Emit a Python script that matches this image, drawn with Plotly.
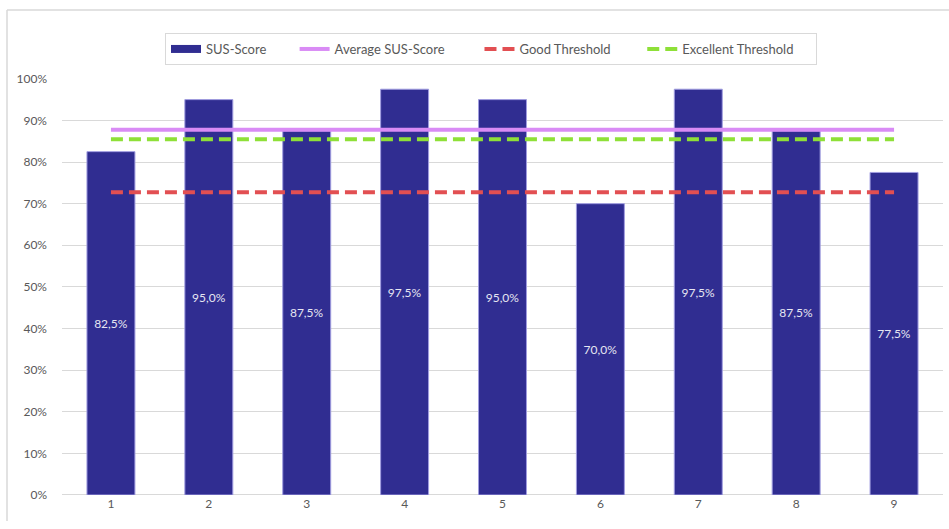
import plotly.graph_objects as go

categories = ["1", "2", "3", "4", "5", "6", "7", "8", "9"]
sus_scores = [82.5, 95.0, 87.5, 97.5, 95.0, 70.0, 97.5, 87.5, 77.5]
average_score = sum(sus_scores) / len(sus_scores)
good_threshold = 72.75
excellent_threshold = 85.5
y_ticks = [0, 10, 20, 30, 40, 50, 60, 70, 80, 90, 100]
y_tick_labels = [f"{v}%" for v in y_ticks]

W, H = 949, 529
ml, mr, mt, mb = 62, 6, 77, 34
BAR_COLOR = "#302D91"
NB = "\u00a0"

fig = go.Figure()
fig.add_trace(go.Bar(
    x=categories, y=sus_scores, name="SUS-Score", showlegend=False,
    marker=dict(color=BAR_COLOR, line=dict(color="#A09DE0", width=1)),
    texttemplate="%{y:.1f}%", textposition="inside", insidetextanchor="middle",
    textfont=dict(color="#E6E6F2", size=12), textangle=0,
))
# legend entry for the bars (wide rectangle swatch like the reference)
fig.add_trace(go.Scatter(
    x=[None], y=[None], name="SUS-Score" + NB * 7, mode="lines",
    line=dict(color=BAR_COLOR, width=8),
))
fig.add_trace(go.Scatter(
    x=categories, y=[average_score] * len(categories), name="Average SUS-Score" + NB * 9,
    mode="lines", line=dict(color="#D98BF5", width=4),
))
fig.add_trace(go.Scatter(
    x=categories, y=[good_threshold] * len(categories), name="Good Threshold" + NB * 8,
    mode="lines", line=dict(color="#E24F52", width=4, dash="12px,6px"),
))
fig.add_trace(go.Scatter(
    x=categories, y=[excellent_threshold] * len(categories), name="Excellent Threshold" + NB * 5,
    mode="lines", line=dict(color="#8EE038", width=4, dash="12px,6px"),
))

pw = W - ml - mr
ph = H - mt - mb
def px_to_paper_x(px):
    return (px - ml) / pw
def px_to_paper_y(py):
    return (H - mb - py) / ph

FONT = "Lato, Open Sans, sans-serif"
fig.update_layout(
    width=W, height=H,
    margin=dict(l=ml, r=mr, t=mt, b=mb),
    paper_bgcolor="white", plot_bgcolor="white",
    separators=",.",
    font=dict(family=FONT, size=12, color="#595959"),
    bargap=0.51,
    showlegend=True,
    legend=dict(
        orientation="h", x=491 / W, xref="container", xanchor="center",
        y=1 - 33 / H, yref="container", yanchor="top",
        bordercolor="#D9D9D9", borderwidth=1, bgcolor="white",
        font=dict(family=FONT, size=13, color="#595959"),
        itemwidth=30, traceorder="normal",
    ),
    xaxis=dict(showgrid=False, showline=False, ticks="", tickfont=dict(size=12, color="#595959")),
    yaxis=dict(
        range=[0, 100], tickvals=y_ticks, ticktext=y_tick_labels,
        showgrid=True, gridcolor="#D9D9D9", gridwidth=1,
        zeroline=True, zerolinecolor="#D9D9D9", zerolinewidth=1,
        showline=False, ticks="", ticklabelstandoff=14,
        tickfont=dict(size=12, color="#595959"),
    ),
    shapes=[
        dict(type="line", xref="paper", yref="paper",
             x0=px_to_paper_x(7), x1=px_to_paper_x(949),
             y0=px_to_paper_y(8), y1=px_to_paper_y(8),
             line=dict(color="#D9D9D9", width=1.5)),
        dict(type="line", xref="paper", yref="paper",
             x0=px_to_paper_x(7), x1=px_to_paper_x(7),
             y0=px_to_paper_y(8), y1=px_to_paper_y(521),
             line=dict(color="#D9D9D9", width=1.5)),
    ],
)

fig.write_html("out.html")
